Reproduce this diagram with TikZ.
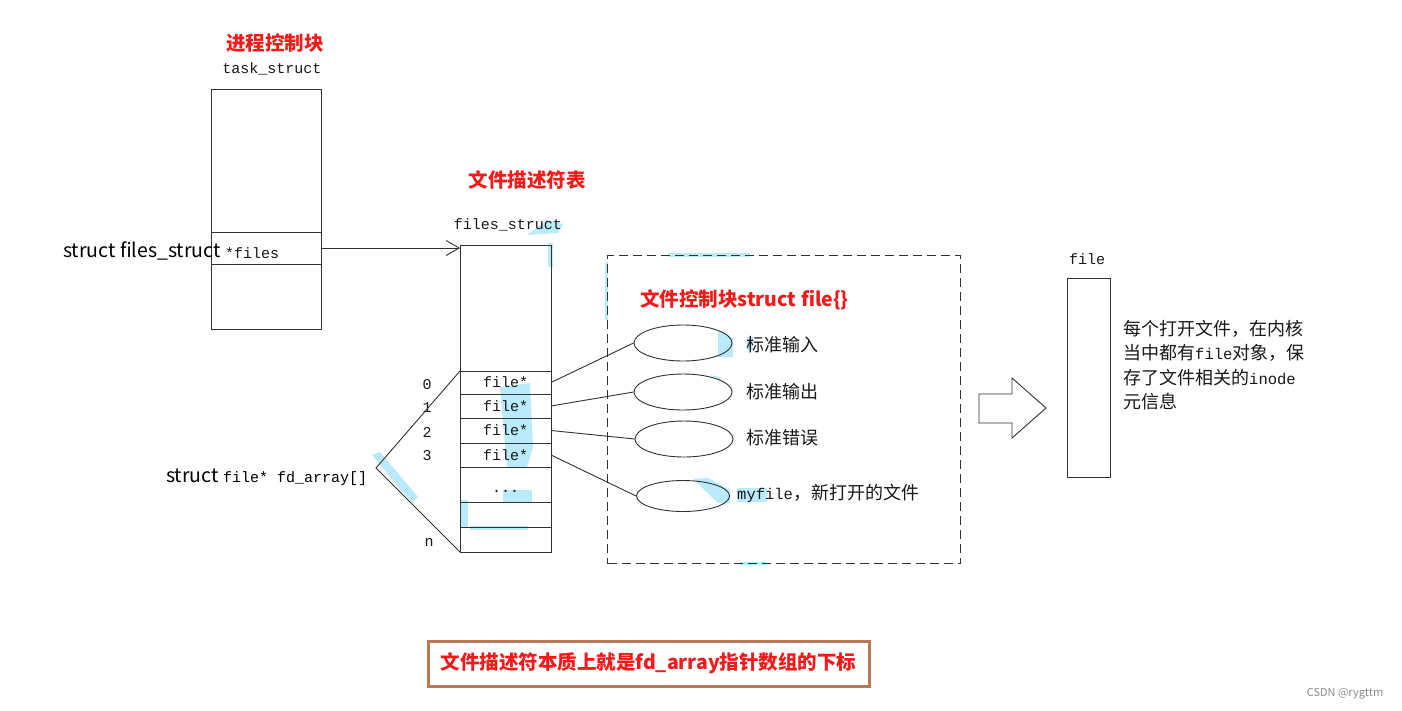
\documentclass[tikz,border=0pt]{standalone}
\usepackage{fontspec}
\setmonofont{Liberation Mono}
\newfontfamily\cjk{Noto Sans CJK SC}
\usetikzlibrary{arrows.meta,shapes.geometric}
\definecolor{tred}{RGB}{245,25,25}
\definecolor{tline}{RGB}{50,50,50}
\definecolor{tbrown}{RGB}{185,120,85}
\definecolor{hl}{RGB}{185,235,252}
\begin{document}
\begin{tikzpicture}[x=1pt,y=-1pt,
  title/.style={font=\cjk\bfseries\fontsize{19.5}{19.5}\selectfont, text=tred, inner sep=0pt},
  mono/.style={font=\ttfamily\fontsize{15}{15}\selectfont, text=black!90, inner sep=0pt},
  sanst/.style={font=\cjk\fontsize{19.5}{19.5}\selectfont, text=black, inner sep=0pt},
  cjkt/.style={font=\cjk\fontsize{18}{24.3}\selectfont, text=black!90, inner sep=0pt},
  tcell/.style={draw=tline, line width=1pt, rectangle, inner sep=0pt, outer sep=0pt, anchor=north west, minimum width=110pt},
  fcell/.style={draw=tline, line width=1pt, rectangle, inner sep=0pt, outer sep=0pt, anchor=north west, minimum width=91pt, font=\ttfamily\fontsize{15}{15}\selectfont, text=black!90},
  ell/.style={ellipse, draw=tline, line width=0.9pt, inner sep=0pt, minimum width=98pt, minimum height=36pt},
  conn/.style={draw=tline, line width=0.9pt}
]
\fill[white] (0,0) rectangle (1402,710);
\useasboundingbox (0,0) rectangle (1402,710);

% light blue highlight marks
\begin{scope}[fill=hl]
\fill (527,235) -- (547,220) -- (563,224) -- (558,233) -- cycle;
\fill (548,243) rectangle (553,267);
\fill (500,387) -- (530,383) -- (533,447) -- (527,467) -- (507,467) -- (503,423) -- cycle;
\fill (503,490) rectangle (532,503);
\fill (460,500) rectangle (468,527);
\fill (470,526) rectangle (528,530);
\fill (372,455) -- (380,452) -- (418,497) -- (412,503) -- cycle;
\fill (668,253) rectangle (750,257);
\fill (605,262) rectangle (608,320);
\fill (718,330) -- (733,338) -- (733,357) -- (718,357) -- cycle;
\fill (747,337) rectangle (753,350);
\fill (710,375) -- (720,377) -- (720,381) -- cycle;
\fill (693,479) -- (708,478) -- (730,490) -- (730,503) -- (718,503) -- cycle;
\fill (737,488) rectangle (767,502);
\fill (740,562) rectangle (767,565);
\end{scope}

% task_struct
\node[title] (h1) at (275,43) {进程控制块};
\node[mono] (tname) at (272,69) {task\_struct};
\node[tcell, minimum height=143pt] (t1) at (211,89) {};
\node[tcell, minimum height=32pt] (t2) at (211,232) {};
\node[tcell, minimum height=65pt] (t3) at (211,264) {};
\node[sanst, anchor=west] (fs) at (63,251) {struct files\_struct};
\node[mono, anchor=west] (fptr) at (225,253) {*files};

% files_struct
\node[title] (h2) at (527,180) {文件描述符表};
\node[mono] (fname) at (508,225) {files\_struct};
\node[fcell, minimum height=126pt] (f0) at (460,245) {};
\node[fcell, minimum height=23pt] (r0) at (460,371) {file*};
\node[fcell, minimum height=24pt] (r1) at (460,394) {file*};
\node[fcell, minimum height=25pt] (r2) at (460,418) {file*};
\node[fcell, minimum height=24pt] (r3) at (460,443) {file*};
\node[fcell, minimum height=35pt, text height=18pt, text depth=2pt] (rd) at (460,467) {...};
\node[fcell, minimum height=25pt] (rb) at (460,502) {};
\node[fcell, minimum height=25pt] (rn) at (460,527) {};

\draw[conn, -{Straight Barb[length=13pt,width=15pt]}] (t2.east) -- (t2.east -| f0.west);

\node[mono] (i0) at (427,385) {0};
\node[mono] (i1) at (427,408) {1};
\node[mono] (i2) at (427,432) {2};
\node[mono] (i3) at (427,456) {3};
\node[mono] (in) at (429,542) {n};

\node[sanst, anchor=west] (fd) at (166,477) {struct {\ttfamily\fontsize{15}{15}\selectfont file* fd\_array[]}};
\coordinate (apex) at (376,468);
\draw[conn] (r0.north west) -- (apex) -- (rn.south west);

% struct file area
\node[draw=tline, dash pattern=on 9pt off 5pt, line width=1pt, rectangle, inner sep=0pt, anchor=north west, minimum width=353pt, minimum height=308pt] (fbox) at (607,255) {};
\node[title, anchor=west] (h3) at (640,300) {文件控制块struct file\{\}};
\node[ell] (e1) at (683,343) {};
\node[ell] (e2) at (683,392) {};
\node[ell] (e3) at (684,439) {};
\node[ell, minimum width=93pt, minimum height=31pt] (e4) at (683,496) {};
\node[cjkt, anchor=west] (l1) at (746,345) {标准输入};
\node[cjkt, anchor=west] (l2) at (746,392) {标准输出};
\node[cjkt, anchor=west] (l3) at (746,438) {标准错误};
\node[cjkt, anchor=west] (l4) at (737,493) {{\ttfamily\fontsize{15.5}{15.5}\selectfont myfile}，新打开的文件};
\draw[conn] (r0.east) -- (e1.west);
\draw[conn] (r1.east) -- (e2.west);
\draw[conn] (r2.east) -- (e3.west);
\draw[conn] (r3.east) -- (e4.west);

% big arrow
\draw[tline, line width=0.9pt, fill=white] (979,394) -- (1012,394) -- (1012,378) -- (1046,408) -- (1012,438) -- (1012,423) -- (979,423) -- cycle;

% file
\node[mono] (fname2) at (1087,259) {file};
\node[draw=tline, line width=1pt, rectangle, inner sep=0pt, anchor=north west, minimum width=43pt, minimum height=199pt] (fb) at (1067,278) {};
\node[cjkt, anchor=north west, align=left] (desc) at (1123,320) {每个打开文件，在内核\\当中都有{\ttfamily\fontsize{15.5}{24.3}\selectfont file}对象，保\\存了文件相关的{\ttfamily\fontsize{15.5}{24.3}\selectfont inode}\\元信息};

% bottom note
\node[draw=tbrown, line width=3pt, rectangle, minimum width=441pt, minimum height=45pt, title] (note) at (648.5,663.5) {文件描述符本质上就是fd\_array指针数组的下标};

\node[font=\cjk\fontsize{11}{11}\selectfont, text=black!45, inner sep=0pt] (wm) at (1345,694) {CSDN @rygttm};
\end{tikzpicture}
\end{document}
